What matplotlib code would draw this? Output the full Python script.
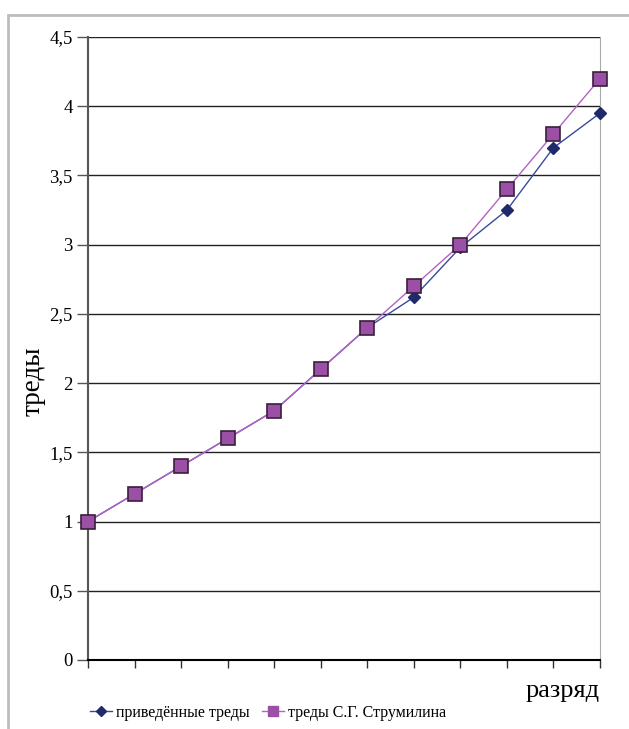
import matplotlib
matplotlib.use("Agg")
import matplotlib.pyplot as plt
from matplotlib.patches import Rectangle
from matplotlib.lines import Line2D

plt.rcParams['font.family'] = ['Liberation Serif', 'DejaVu Serif']

ranks = list(range(1, 13))
reduced = [1.0, 1.2, 1.4, 1.6, 1.8, 2.1, 2.4, 2.62, 2.98, 3.25, 3.7, 3.95]
strumilin = [1.0, 1.2, 1.4, 1.6, 1.8, 2.1, 2.4, 2.7, 3.0, 3.4, 3.8, 4.2]
yticks = [0, 0.5, 1, 1.5, 2, 2.5, 3, 3.5, 4, 4.5]
ytick_labels = ['0', '0,5', '1', '1,5', '2', '2,5', '3', '3,5', '4', '4,5']

W, H = 629, 729
fig = plt.figure(figsize=(W/100, H/100), dpi=100)
fig.patches.append(Rectangle((8/W, -0.1), 1.2, 1 - 15/H + 0.1, transform=fig.transFigure,
                             fill=False, edgecolor='#bdbdbd', linewidth=2))

ax = fig.add_axes([88/W, 1 - 660/H, (600-88)/W, (660-37)/H])
ax.set_xlim(1, 12)
ax.set_ylim(0, 4.5)
for y in yticks[1:]:
    ax.axhline(y, color='#222222', linewidth=1.0, zorder=1)

ax.plot(ranks, reduced, color='#3a4a9a', linewidth=1, marker='D', markersize=6.5,
        markerfacecolor='#1f2a6b', markeredgecolor='#1f2a6b', zorder=3, clip_on=False)
ax.plot(ranks, strumilin, color='#b462c4', linewidth=1, marker='s', markersize=9.5,
        markerfacecolor='#9b4fa6', markeredgecolor='#3a1f3a', markeredgewidth=1.2,
        zorder=4, clip_on=False)

ax.set_yticks(yticks)
ax.set_yticklabels(ytick_labels, fontsize=13.5)
ax.set_xticks(ranks)
ax.set_xticklabels([])
ax.tick_params(axis='y', direction='out', length=8, width=1, color='#555555', pad=3)
ax.tick_params(axis='x', direction='out', length=6, width=1, color='#333333')
ax.spines['top'].set_visible(False)
ax.spines['right'].set_color('#aaaaaa')
ax.spines['left'].set_color('#555555')
ax.spines['bottom'].set_color('black')
ax.spines['left'].set_linewidth(1.5)
ax.spines['bottom'].set_linewidth(1.5)

fig.text(33/W, 1 - 381/H, 'треды', rotation=90, fontsize=19.5, ha='center', va='center')
fig.text(600/W, 1 - 691/H, 'разряд', fontsize=19, ha='right', va='center')

h1 = Line2D([], [], color='#3a4a9a', linewidth=1, marker='D', markersize=5.5,
            markerfacecolor='#1f2a6b', markeredgecolor='#1f2a6b')
h2 = Line2D([], [], color='#b462c4', linewidth=1, marker='s', markersize=7,
            markerfacecolor='#9b4fa6', markeredgecolor='#9b4fa6')
fig.legend([h1, h2], ['приведённые треды', 'треды С.Г. Струмилина'],
           loc='center', bbox_to_anchor=(268/W, 1 - 713/H), ncol=2, frameon=False,
           fontsize=11.5, handlelength=1.4, handletextpad=0.25, columnspacing=0.75,
           borderpad=0, borderaxespad=0)

fig.savefig('out.png', dpi=100)
